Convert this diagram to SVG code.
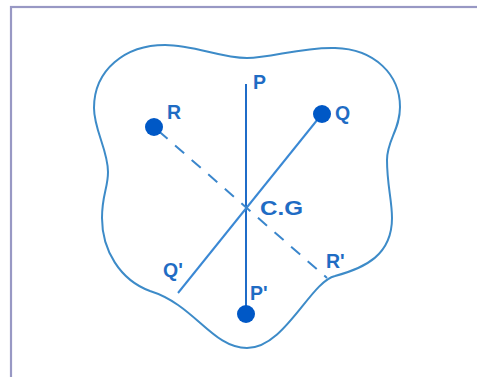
<svg xmlns="http://www.w3.org/2000/svg" width="477" height="377" viewBox="0 0 477 377">
  <style>
    .frame { fill: #ffffff; stroke: #9898c4; stroke-width: 2.2; }
    .body { fill: none; stroke: #3d8bc8; stroke-width: 2; }
    .axis { fill: none; stroke: #1f6cc8; stroke-width: 2; }
    .axis-light { fill: none; stroke: #3a88d4; stroke-width: 2; }
    .axis-dash { fill: none; stroke: #3a86cc; stroke-width: 2; stroke-dasharray: 12 10; }
    .dot { fill: #0058c6; }
    .lbl { font-family: "Liberation Sans", Arial, sans-serif; font-weight: bold; font-size: 19.5px; fill: #1f6cc4; }
  </style>

  <!-- outer frame -->
  <rect class="frame" x="11" y="7" width="480" height="380"/>

  <!-- irregular lamina -->
  <path id="lamina" class="body" d="M94,108 C94,70 125,45 165,45 C195,45 220,58 247,58 C272,58 300,47 335,48 C375,49 400,75 400,107 C400,130 387,140 387,160 C387,185 392,200 392,218 C392,255 365,268 335,276 C310,282 285,348 247,348 C212,348 195,305 150,291 C120,280 102,250 102,218 C102,195 108,188 108,172 C108,150 94,130 94,108 Z"/>

  <!-- suspension lines through the centre of gravity -->
  <g id="connectors">
    <line class="axis" x1="246" y1="84" x2="246" y2="314"/>
    <line class="axis-light" x1="322" y1="114" x2="178" y2="293"/>
    <line class="axis-dash" x1="154" y1="127" x2="327" y2="278" stroke-dashoffset="-6"/>
  </g>

  <g id="node-P">
    <text class="lbl" x="253" y="89">P</text>
  </g>
  <g id="node-P-prime">
    <circle class="dot" cx="246" cy="314" r="9"/>
    <text class="lbl" x="250" y="300">P'</text>
  </g>
  <g id="node-Q">
    <circle class="dot" cx="322" cy="114" r="9"/>
    <text class="lbl" x="335" y="120">Q</text>
  </g>
  <g id="node-Q-prime">
    <text class="lbl" x="163" y="277">Q'</text>
  </g>
  <g id="node-R">
    <circle class="dot" cx="154" cy="127" r="9"/>
    <text class="lbl" x="167" y="119">R</text>
  </g>
  <g id="node-R-prime">
    <text class="lbl" x="326" y="268">R'</text>
  </g>
  <g id="node-CG">
    <text class="lbl" x="260" y="215" textLength="43" lengthAdjust="spacingAndGlyphs">C.G</text>
  </g>
</svg>
